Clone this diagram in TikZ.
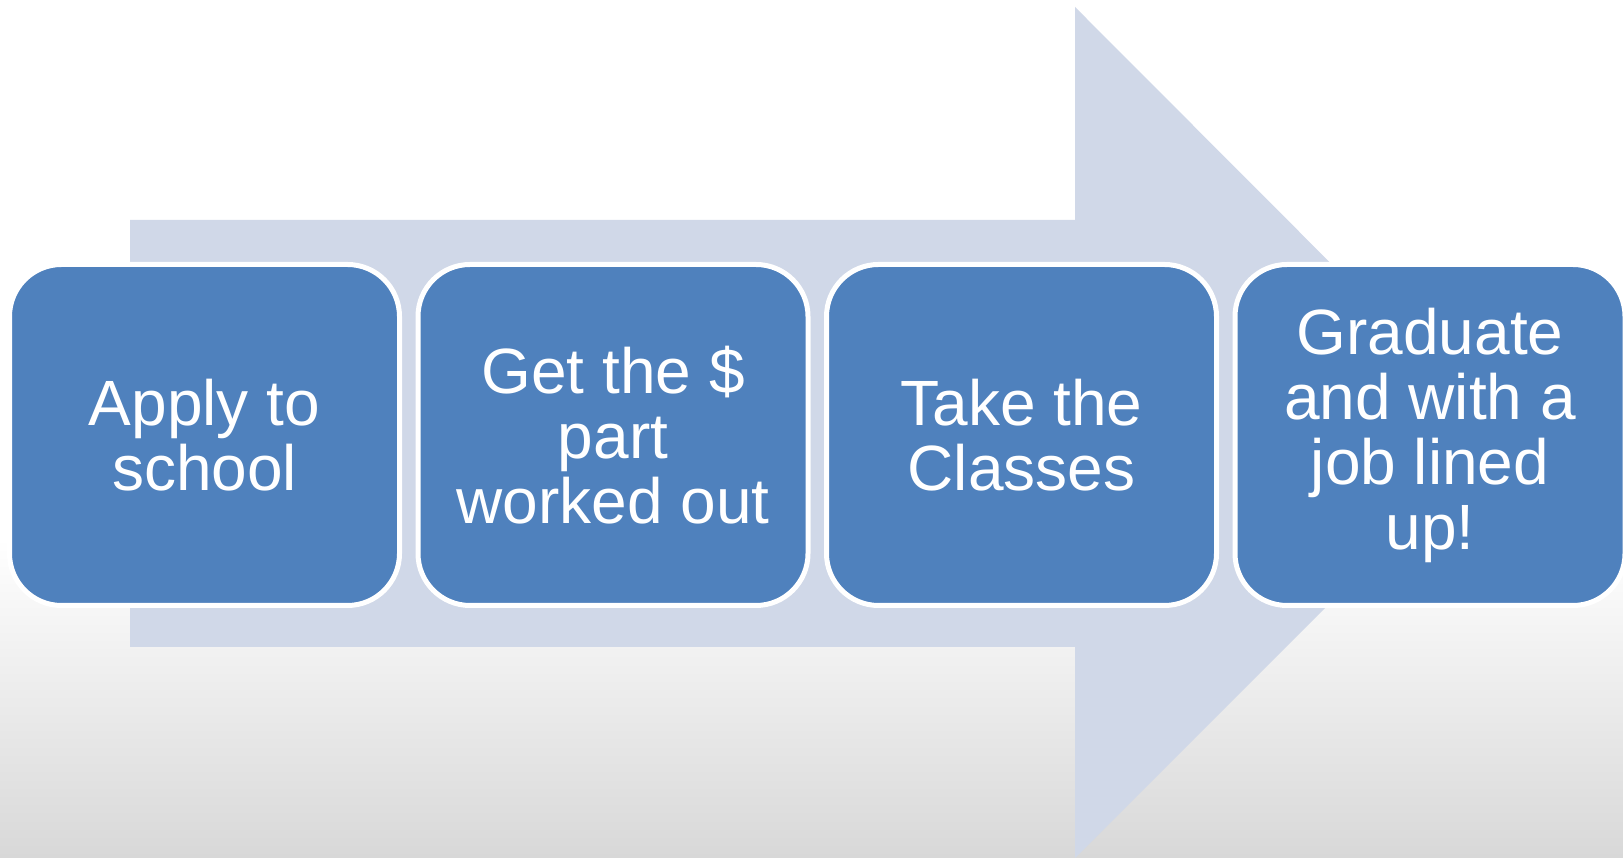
\documentclass[tikz,border=0pt]{standalone}
\usepackage{fontspec}
\setmainfont{Liberation Sans}
\definecolor{stepblue}{HTML}{4F81BD}
\definecolor{arrowgray}{HTML}{D0D8E8}
\definecolor{floorgray}{HTML}{D8D8D8}

\begin{document}
\begin{tikzpicture}[x=1pt,y=1pt,
    stepbox/.style={rectangle, rounded corners=52pt, draw=white, line width=5pt, fill=stepblue,
      minimum width=390pt, minimum height=341pt, inner sep=0pt, text=white, align=center,
      font=\fontsize{64}{65}\selectfont}
    ]
    % background
    \fill[white] (0,0) rectangle (1623,858);
    \shade[top color=white, bottom color=floorgray] (0,0) rectangle (1623,320);
    \useasboundingbox (0,0) rectangle (1623,858);

    % big arrow behind the steps
    \fill[arrowgray] (130,211) -- (130,638) -- (1075,638) -- (1075,851)
      -- (1500,425) -- (1075,0) -- (1075,211) -- cycle;

    \node [stepbox] (s1) at (204.5,423) {Apply to\\school};
    \node [stepbox] (s2) at (613,423) {Get the \$\\part\\worked out};
    \node [stepbox] (s3) at (1021.5,423) {Take the\\Classes};
    \node [stepbox] (s4) at (1430,423) {Graduate\\and with a\\job lined\\up!};
  \end{tikzpicture}
\end{document}
